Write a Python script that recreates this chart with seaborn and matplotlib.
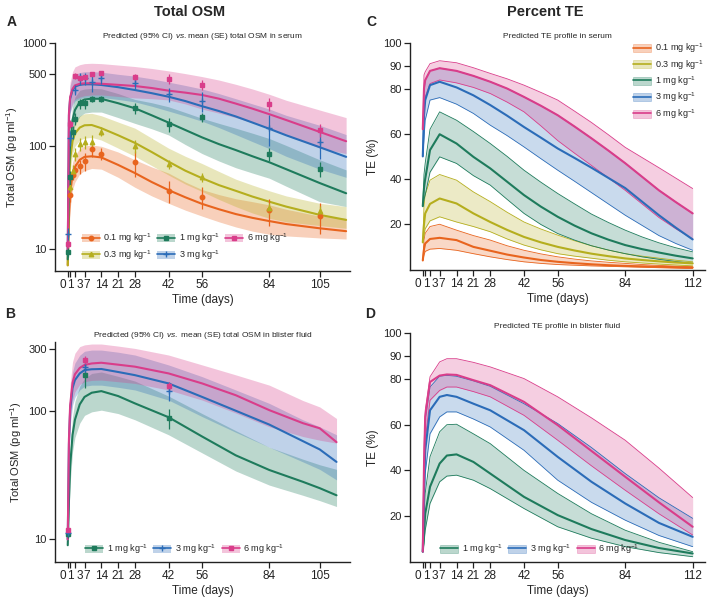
import matplotlib.pyplot as plt
import matplotlib.transforms as mtransforms
import numpy as np
import pandas as pd
import seaborn as sns
from matplotlib.patches import Patch
from matplotlib.lines import Line2D

sns.set_theme(style="ticks")
plt.rcParams['font.family'] = ['Liberation Sans', 'DejaVu Sans']
plt.rcParams['mathtext.fontset'] = 'custom'
plt.rcParams['mathtext.rm'] = 'Liberation Sans'
plt.rcParams['mathtext.it'] = 'Liberation Sans:italic'

# doses / styles
doses = ["0.1 mg kg$^{-1}$", "0.3 mg kg$^{-1}$", "1 mg kg$^{-1}$", "3 mg kg$^{-1}$", "6 mg kg$^{-1}$"]
colors = ["#E8641E", "#B5AE1E", "#1E7B5C", "#2B6CB8", "#D93D8A"]
markers = ["o", "^", "s", "+", "s"]

# ---- Panel A: predicted total OSM in serum (median, 95% CI)
tA = [0, 0.5, 1, 2, 3, 5, 7, 10, 14, 21, 28, 35, 42, 49, 56, 63, 70, 77, 84, 91, 105, 116]
a_med = [
    [7, 20, 35, 53, 63, 74, 79, 80, 78, 66, 55, 45, 37.6, 32, 27.6, 24.5, 22, 20.2, 18.8, 17.6, 16, 15],
    [7, 40, 75, 112, 133, 152, 160, 161, 150, 128, 108, 88, 71, 58, 49, 42, 37, 32.5, 29, 26, 21.6, 19.3],
    [8, 60, 105, 180, 225, 270, 285, 290, 289, 262, 234, 200, 170, 144, 122, 105, 92, 80, 70, 60, 44, 35],
    [9, 200, 290, 350, 380, 395, 400, 400, 394, 375, 352, 328, 303, 275, 245, 220, 195, 170, 148, 128, 98, 79],
    [9, 210, 300, 360, 390, 405, 409, 410, 405, 395, 385, 368, 347, 332, 315, 290, 260, 232, 205, 180, 138, 112],
]
a_lo = [
    [6.5, 14, 25, 38, 45, 54, 58, 61, 60, 50, 40, 33, 28, 24, 21, 18.5, 16.5, 15, 14, 13.5, 12.9, 12.6],
    [6.5, 28, 55, 85, 100, 115, 120, 122, 115, 96, 80, 65, 52.6, 43, 36.4, 30.5, 26, 22.5, 20, 18.5, 17, 16],
    [7.5, 42, 75, 125, 160, 195, 210, 215, 215, 190, 167, 148, 129, 104, 85, 72, 62, 55, 49, 41, 29, 26],
    [8.5, 140, 210, 250, 275, 290, 298, 300, 298, 285, 270, 245, 220, 197, 175, 152, 130, 111, 95, 80, 60, 50],
    [8.5, 150, 220, 260, 285, 300, 310, 315, 315, 305, 295, 290, 282, 258, 230, 210, 190, 170, 150, 130, 96, 85],
]
a_hi = [
    [7.5, 26, 46, 70, 82, 95, 101, 103, 100, 88, 74, 63, 55, 45, 38, 34, 31, 29, 27, 24.5, 21, 20],
    [7.5, 55, 100, 150, 175, 198, 207, 209, 198, 172, 150, 120, 96, 80, 68, 57, 48, 42, 37, 33, 28, 26],
    [8.5, 85, 145, 245, 300, 350, 360, 365, 362, 325, 285, 265, 242, 213, 187, 167, 150, 134, 119, 102, 74, 59],
    [9.5, 270, 390, 470, 500, 520, 530, 530, 525, 500, 480, 452, 420, 390, 360, 325, 290, 258, 230, 200, 160, 130],
    [9.5, 290, 420, 530, 590, 620, 635, 640, 635, 615, 595, 570, 540, 508, 475, 440, 400, 360, 320, 280, 225, 190],
]
# observed mean (SE), serum
obsA_t = [0.2, 1, 2, 3, 5, 7, 10, 14, 28, 42, 56, 84, 105]
obsA_mean = [
    [np.nan, 34, 53, 59, 64, 72, 95, 85, 70, 37, 32.5, 24, 21],
    [np.nan, 40, 58, 84, 105, 111, 111, 139, 101, 67, 50, 25, 23.5],
    [9.5, 50, 139, 185, 261, 261, 290, 289, 234, 164, 191, 84, 60],
    [14, 120, np.nan, 352, 456, 456, 424, 456, 408, 322, 275, 151, 111],
    [11.3, 164, np.nan, 481, 456, 467, 503, 510, 467, 450, 396, 257, 144],
]
obsA_se = [
    [0, 5, 6, 8, 10, 14, 16, 12, 20, 9, 8, 7, 7],
    [0, 6, 8, 12, 15, 16, 18, 14, 14, 7, 5, 3, 3],
    [1, 8, 20, 25, 30, 30, 20, 20, 30, 25, 20, 12, 10],
    [2, 20, 0, 40, 60, 60, 90, 50, 45, 50, 60, 50, 35],
    [1, 15, 0, 30, 30, 30, 25, 25, 40, 50, 40, 35, 20],
]

# ---- Panel B: total OSM in blister fluid (1, 3, 6 mg/kg)
tB = [0, 0.5, 1, 2, 3, 5, 7, 10, 14, 21, 28, 42, 56, 70, 84, 98, 105, 112]
b_med = [
    [9, 20, 37, 65, 85, 112, 128, 138, 142, 130, 114, 89, 63, 45, 34.6, 28, 25, 22],
    [10, 55, 101, 150, 173, 195, 207, 210, 211, 200, 189, 163, 128, 100, 78, 58, 50, 40],
    [10, 60, 110, 165, 192, 215, 227, 233, 236, 228, 220, 195, 163, 132, 101, 80, 73, 57],
]
b_lo = [
    [8.5, 15, 27, 48, 62, 80, 92, 98, 101, 95, 85, 65, 47, 34, 26.4, 22, 20, 18],
    [9.5, 40, 75, 110, 127, 145, 155, 158, 158, 152, 145, 121, 90, 68, 52, 40, 35, 29],
    [9.5, 45, 82, 120, 140, 160, 168, 172, 173, 168, 163, 145, 121, 96, 75, 63, 59, 56],
]
b_hi = [
    [9.5, 27, 50, 90, 118, 155, 178, 195, 200, 185, 170, 130, 95, 70, 52, 42, 38, 35],
    [10.5, 75, 135, 200, 235, 270, 290, 296, 296, 285, 271, 227, 184, 145, 114, 85, 75, 65],
    [10.5, 90, 160, 240, 280, 315, 325, 330, 330, 318, 305, 271, 227, 190, 158, 120, 107, 87],
]
obsB_t = [0.2, 7, 42]
obsB_mean = [[11, 189, 88], [11.3, 220, 143], [11.8, 248, 155]]
obsB_se = [[0.8, 40, 16], [0.8, 35, 25], [0.8, 20, 12]]

# ---- Panel C: predicted TE in serum
tC = [0, 0.5, 1, 3, 7, 14, 21, 28, 35, 42, 49, 56, 63, 70, 77, 84, 91, 98, 105, 112]
c_med = [
    [4, 9, 11.5, 13.5, 14, 13, 10, 8.3, 6.6, 5.3, 4.2, 3.4, 2.8, 2.3, 1.9, 1.6, 1.4, 1.2, 1.05, 0.9],
    [12, 20, 24.8, 29, 31.4, 29.2, 24.8, 21, 17.5, 14.4, 12, 10, 8.4, 7, 5.9, 4.9, 4.2, 3.6, 3.1, 2.7],
    [28, 36, 40, 52.8, 59.8, 55.7, 49.8, 44.7, 38.8, 32.9, 27.8, 23.3, 19.4, 16, 13.2, 10.8, 9, 7.5, 6.1, 4.9],
    [50, 68, 74.9, 81.5, 83, 80.5, 77, 72.7, 68, 63, 58.3, 53.5, 49.3, 45, 40.5, 36, 30, 24, 18.5, 13.3],
    [62, 80, 83.7, 87.8, 89, 87.8, 85.6, 83, 80, 76.3, 72.4, 68.2, 63.2, 58, 52.6, 47, 41, 35, 29.8, 24.8],
]
c_lo = [
    [4, 6.5, 8, 9, 9.3, 8.5, 7, 5.6, 4.4, 3.4, 2.7, 2.2, 1.9, 1.6, 1.4, 1.2, 1.0, 0.8, 0.6, 0.4],
    [12, 15, 18, 21.5, 23.3, 21, 19, 16.7, 13.5, 10.8, 8.7, 7, 5.9, 5, 4.1, 3.4, 2.9, 2.4, 2.0, 1.6],
    [28, 31, 33, 43, 49.8, 46.9, 41.5, 37.3, 31, 24.8, 19.9, 15.9, 13, 10.5, 8.6, 7, 5.6, 4.5, 3.5, 2.7],
    [50, 58, 66, 74.9, 76, 73.1, 69, 63.8, 59.2, 54.2, 49, 43.9, 39, 34, 29, 24, 19.5, 15, 11.5, 8.5],
    [62, 70, 76.3, 82.2, 83.8, 82.5, 80.5, 77.8, 74, 69.7, 63.5, 57, 51.4, 46, 40.5, 35, 29, 23, 18, 13.5],
]
c_hi = [
    [4, 13, 16, 19, 20, 17.4, 15, 13, 10.5, 8.5, 6.9, 5.6, 4.6, 3.8, 3.2, 2.7, 2.2, 1.8, 1.5, 1.2],
    [12, 28, 33, 39.5, 42, 39.5, 34.3, 30, 25.3, 21, 17.9, 15.2, 12.7, 10.5, 8.6, 7, 5.9, 5, 4.1, 3.4],
    [28, 42, 47, 62, 69.7, 66, 61, 55.7, 50, 43.9, 38.6, 33.6, 29, 24.5, 20.8, 17.4, 14.4, 11.8, 9.6, 7.8],
    [50, 78, 83.7, 87.8, 89, 87.8, 85.6, 83, 80, 76.3, 72.4, 68.2, 63.2, 58, 52.6, 47, 41, 35, 29.8, 24.8],
    [62, 86, 87.4, 91, 92.3, 91.4, 89.2, 86.7, 84.3, 81.5, 78.3, 74.9, 70, 65, 59.6, 54, 49.5, 45, 40.4, 35.8],
]

# ---- Panel D: predicted TE in blister fluid
tD = [0, 0.5, 1, 3, 7, 10, 14, 21, 28, 42, 56, 70, 84, 98, 112]
d_med = [
    [4.4, 12, 21, 32.8, 43, 46.5, 47, 43.7, 38.6, 28.4, 20.4, 14.3, 9.5, 6, 3.6],
    [4.4, 30, 48.8, 66.3, 72.2, 73, 72.2, 69.2, 66.3, 57.6, 45.9, 35, 25.5, 17, 10.9],
    [4.4, 42, 63.4, 78.7, 81.5, 82, 81.8, 79.5, 77.3, 70, 59.8, 48.5, 37.2, 26, 15.3],
]
d_lo = [
    [4.4, 8, 13.8, 25.5, 35, 37.5, 37.9, 35.7, 32, 23.3, 15.3, 10.3, 6.6, 4, 2.2],
    [4.4, 22, 38.6, 56, 63.4, 65.6, 65.6, 62.5, 59, 48.8, 35.7, 26, 18.2, 11.5, 6.6],
    [4.4, 35, 53.2, 70.7, 75, 76.5, 76.5, 74.5, 72.2, 64.1, 53.2, 42, 31.3, 21, 11.7],
]
d_hi = [
    [4.4, 18, 30, 46, 56.9, 60, 60.2, 56, 51.7, 40, 29.9, 21, 13.8, 8.5, 4.4],
    [4.4, 40, 62, 76.5, 81.2, 81.6, 81.2, 79.2, 76.8, 69.2, 60.5, 50, 38.6, 28, 19],
    [4.4, 50, 66.3, 81, 87.5, 88.9, 88.9, 87.3, 85.3, 80.2, 72.2, 63, 53.2, 41, 28.1],
]

xticks_osm = [0, 1, 3, 7, 14, 21, 28, 42, 56, 84, 105]
xticks_te = [0, 1, 3, 7, 14, 21, 28, 42, 56, 84, 112]

FS = 8.5
fig = plt.figure(figsize=(7.09, 6.04), dpi=100)
axA = fig.add_axes([0.0776, 0.5518, 0.416, 0.3765])
axB = fig.add_axes([0.0776, 0.0700, 0.416, 0.3632])
axC = fig.add_axes([0.5783, 0.5538, 0.416, 0.3745])
axD = fig.add_axes([0.5783, 0.0700, 0.416, 0.3781])


def bands(ax, t, med, lo, hi, idx, edges=False, alpha=0.3):
    for k, i in enumerate(idx):
        c = colors[i]
        ax.fill_between(t, lo[k], hi[k], color=c, alpha=alpha, lw=0)
        if edges:
            ax.plot(t, lo[k], color=c, lw=0.6)
            ax.plot(t, hi[k], color=c, lw=0.6)
    for k, i in enumerate(idx):
        sns.lineplot(x=t, y=med[k], ax=ax, color=colors[i], lw=1.5)


def observed(ax, t, mean, se, idx):
    for k, i in enumerate(idx):
        df = pd.DataFrame({"t": t, "m": mean[k], "se": se[k]}).dropna()
        ms = 5 if markers[i] == "+" else 3.2
        ax.errorbar(df["t"], df["m"], yerr=df["se"], fmt=markers[i], color=colors[i],
                    ms=ms, mew=1.0, elinewidth=0.9, capsize=0, zorder=5)


def style(ax, xt, xmax):
    sns.despine(ax=ax)
    ax.set_xticks(xt)
    ax.set_xticklabels([str(v) for v in xt])
    ax.set_xlim(-5.3, xmax)
    ax.tick_params(labelsize=FS, length=4, width=0.9, pad=2, colors="#222222")
    ax.tick_params(axis="y", labelsize=8)
    ax.minorticks_off()
    for s in ["left", "bottom"]:
        ax.spines[s].set_linewidth(1.0)
        ax.spines[s].set_color("#222222")
    ax.set_xlabel("Time (days)", fontsize=FS, labelpad=2)
    # the first crowded labels are nudged apart as in the original
    labs = ax.get_xticklabels()
    shifts = {0: (-1.5, "right"), 1: (0.5, "center"), 2: (1.0, "left"), 3: (1.5, "center")}
    for j, (dx, ha) in shifts.items():
        labs[j].set_ha(ha)
        labs[j].set_transform(labs[j].get_transform() +
                              mtransforms.ScaledTranslation(dx / 72, 0, fig.dpi_scale_trans))


# A
bands(axA, tA, a_med, a_lo, a_hi, [0, 1, 2, 3, 4])
observed(axA, obsA_t, obsA_mean, obsA_se, [0, 1, 2, 3, 4])
axA.set_yscale("log")
axA.set_ylim(6.2, 1000)
axA.set_yticks([10, 100, 500, 1000])
axA.set_yticklabels(["10", "100", "500", "1000"])
style(axA, xticks_osm, 117.6)
axA.set_ylabel("Total OSM (pg ml$^{-1}$)", fontsize=8, labelpad=1.5)
axA.set_title(r"Predicted (95% CI) $\it{vs.}$mean (SE) total OSM in serum", fontsize=6, pad=4)

# B
bands(axB, tB, b_med, b_lo, b_hi, [2, 3, 4])
observed(axB, obsB_t, obsB_mean, obsB_se, [2, 3, 4])
axB.set_yscale("log")
axB.set_ylim(6.7, 340)
axB.set_yticks([10, 100, 300])
axB.set_yticklabels(["10", "100", "300"])
style(axB, xticks_osm, 117.6)
axB.set_ylabel("Total OSM (pg ml$^{-1}$)", fontsize=8, labelpad=3)
axB.set_title(r"Predicted (95% CI) $\it{vs.}$ mean (SE) total OSM in blister fluid", fontsize=6, pad=4)

# C
bands(axC, tC, c_med, c_lo, c_hi, [0, 1, 2, 3, 4], edges=True, alpha=0.25)
axC.set_ylim(0, 100)
axC.set_yticks([20, 40, 60, 80, 90, 100])
style(axC, xticks_te, 117.1)
axC.set_ylabel("TE (%)", fontsize=FS, labelpad=3)
axC.set_title("Predicted TE profile in serum", fontsize=6, pad=4)

# D
bands(axD, tD, d_med, d_lo, d_hi, [2, 3, 4], edges=True, alpha=0.25)
axD.set_ylim(0, 100)
axD.set_yticks([20, 40, 60, 80, 90, 100])
style(axD, xticks_te, 117.1)
axD.set_ylabel("TE (%)", fontsize=FS, labelpad=3)
axD.set_title("Predicted TE profile in blister fluid", fontsize=6, pad=4)


def handles(idx, with_marker=True, edge=False):
    out = []
    for i in idx:
        p = Patch(facecolor=colors[i], alpha=0.3, edgecolor=colors[i] if edge else "none", lw=0.6)
        if with_marker:
            l = Line2D([], [], color=colors[i], lw=1.2, marker=markers[i],
                       ms=5 if markers[i] == "+" else 3.2, mew=1)
        else:
            l = Line2D([], [], color=colors[i], lw=1.2)
        out.append((p, l))
    return out


leg_kw = dict(frameon=False, fontsize=6.5, handlelength=2.0, handleheight=1.0,
              handletextpad=0.4, columnspacing=0.6, labelspacing=0.3, borderaxespad=0)
axA.legend(handles(range(5)), doses, ncol=3, loc="center", bbox_to_anchor=(0.44, 0.105), **leg_kw)
axB.legend(handles([2, 3, 4]), [doses[i] for i in [2, 3, 4]], ncol=3, loc="center",
           bbox_to_anchor=(0.44, 0.058), **leg_kw)
axC.legend(handles(range(5), False, True), doses, ncol=1, loc="center",
           bbox_to_anchor=(0.875, 0.833), **leg_kw)
axD.legend(handles([2, 3, 4], False, True), [doses[i] for i in [2, 3, 4]], ncol=3, loc="center",
           bbox_to_anchor=(0.44, 0.056), **leg_kw)

# headings and panel letters
fig.text(190 / 709, 1 - 12 / 604, "Total OSM", fontsize=10.5, fontweight="bold", ha="center", va="center")
fig.text(545 / 709, 1 - 12 / 604, "Percent TE", fontsize=10.5, fontweight="bold", ha="center", va="center")
for lab, x, y in [("A", 12, 22), ("B", 10, 314), ("C", 371, 22), ("D", 370, 314)]:
    fig.text(x / 709, 1 - y / 604, lab, fontsize=10, fontweight="bold", ha="center", va="center")

fig.savefig("out.png", dpi=100)
